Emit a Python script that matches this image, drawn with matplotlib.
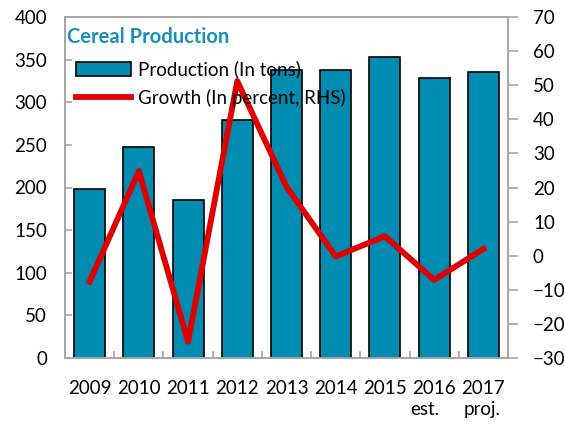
import matplotlib
matplotlib.use("Agg")
import matplotlib.pyplot as plt
from matplotlib.ticker import MultipleLocator

plt.rcParams['font.family'] = ['Lato', 'DejaVu Sans']

years = ["2009", "2010", "2011", "2012", "2013", "2014", "2015", "2016", "2017"]
sub_labels = ["", "", "", "", "", "", "", "est.", "proj."]
production = [198, 248, 185, 279, 338, 338, 353, 329, 336]
growth = [-7.6, 24.8, -25.2, 51.2, 20.2, -0.2, 5.7, -7.1, 2.0]

bar_color = "#008BB0"
line_color = "#E00000"
spine_color = "#A6A6A6"

fig = plt.figure(figsize=(5.65, 4.28), dpi=100)
ax = fig.add_axes([65/565, 1-358/428, (508-65)/565, (358-17)/428])
ax2 = ax.twinx()

x = list(range(len(years)))
bars = ax.bar(x, production, width=0.63, color=bar_color, edgecolor="black",
              linewidth=1.2, label="Production (In tons)", zorder=2)
line, = ax2.plot(x, growth, color=line_color, linewidth=4.2,
                 label="Growth (In percent, RHS)", zorder=3)

ax.set_xlim(-0.5, 8.5)
ax.set_ylim(0, 400)
ax2.set_ylim(-30, 70)
ax.yaxis.set_major_locator(MultipleLocator(50))
ax2.yaxis.set_major_locator(MultipleLocator(10))

for a in (ax, ax2):
    for s in a.spines.values():
        s.set_color(spine_color)
        s.set_linewidth(1.2)

ax.set_xticks(x)
ax.set_xticklabels(years, fontsize=13.5)
ax.tick_params(axis="x", length=0, pad=16)
ax.set_xticks([i + 0.5 for i in range(len(years) - 1)], minor=True)
ax.tick_params(axis="x", which="minor", direction="in", length=5,
               color=spine_color, width=1.2)
ax.tick_params(axis="y", direction="in", length=5, color=spine_color,
               width=1.2, labelsize=13.5, pad=13)
ax2.tick_params(axis="y", direction="out", length=7, color=spine_color,
                width=1.2, labelsize=13.5, pad=11)

# sub-labels under the last two years
trans = ax.get_xaxis_transform()
sub_offsets = {7: -0.2, 8: -0.03}
for i, s in enumerate(sub_labels):
    if s:
        ax.text(i + sub_offsets.get(i, 0), -0.126, s, transform=trans,
                fontsize=13.5, ha="center", va="top")

ax.set_zorder(ax2.get_zorder() - 1)
ax2.patch.set_visible(False)

ax.text(0.005, 0.97, "Cereal Production", transform=ax.transAxes,
        fontsize=14.5, fontweight="bold", color="#1A8FBF", va="top", ha="left")

leg = ax2.legend([bars, line], ["Production (In tons)", "Growth (In percent, RHS)"],
                 loc="upper left", bbox_to_anchor=(0.0, 0.905), frameon=False,
                 fontsize=13.5, handlelength=2.9, handleheight=0.8,
                 labelspacing=0.55, borderaxespad=0.2, handletextpad=0.4)

fig.savefig("out.png", dpi=100)
